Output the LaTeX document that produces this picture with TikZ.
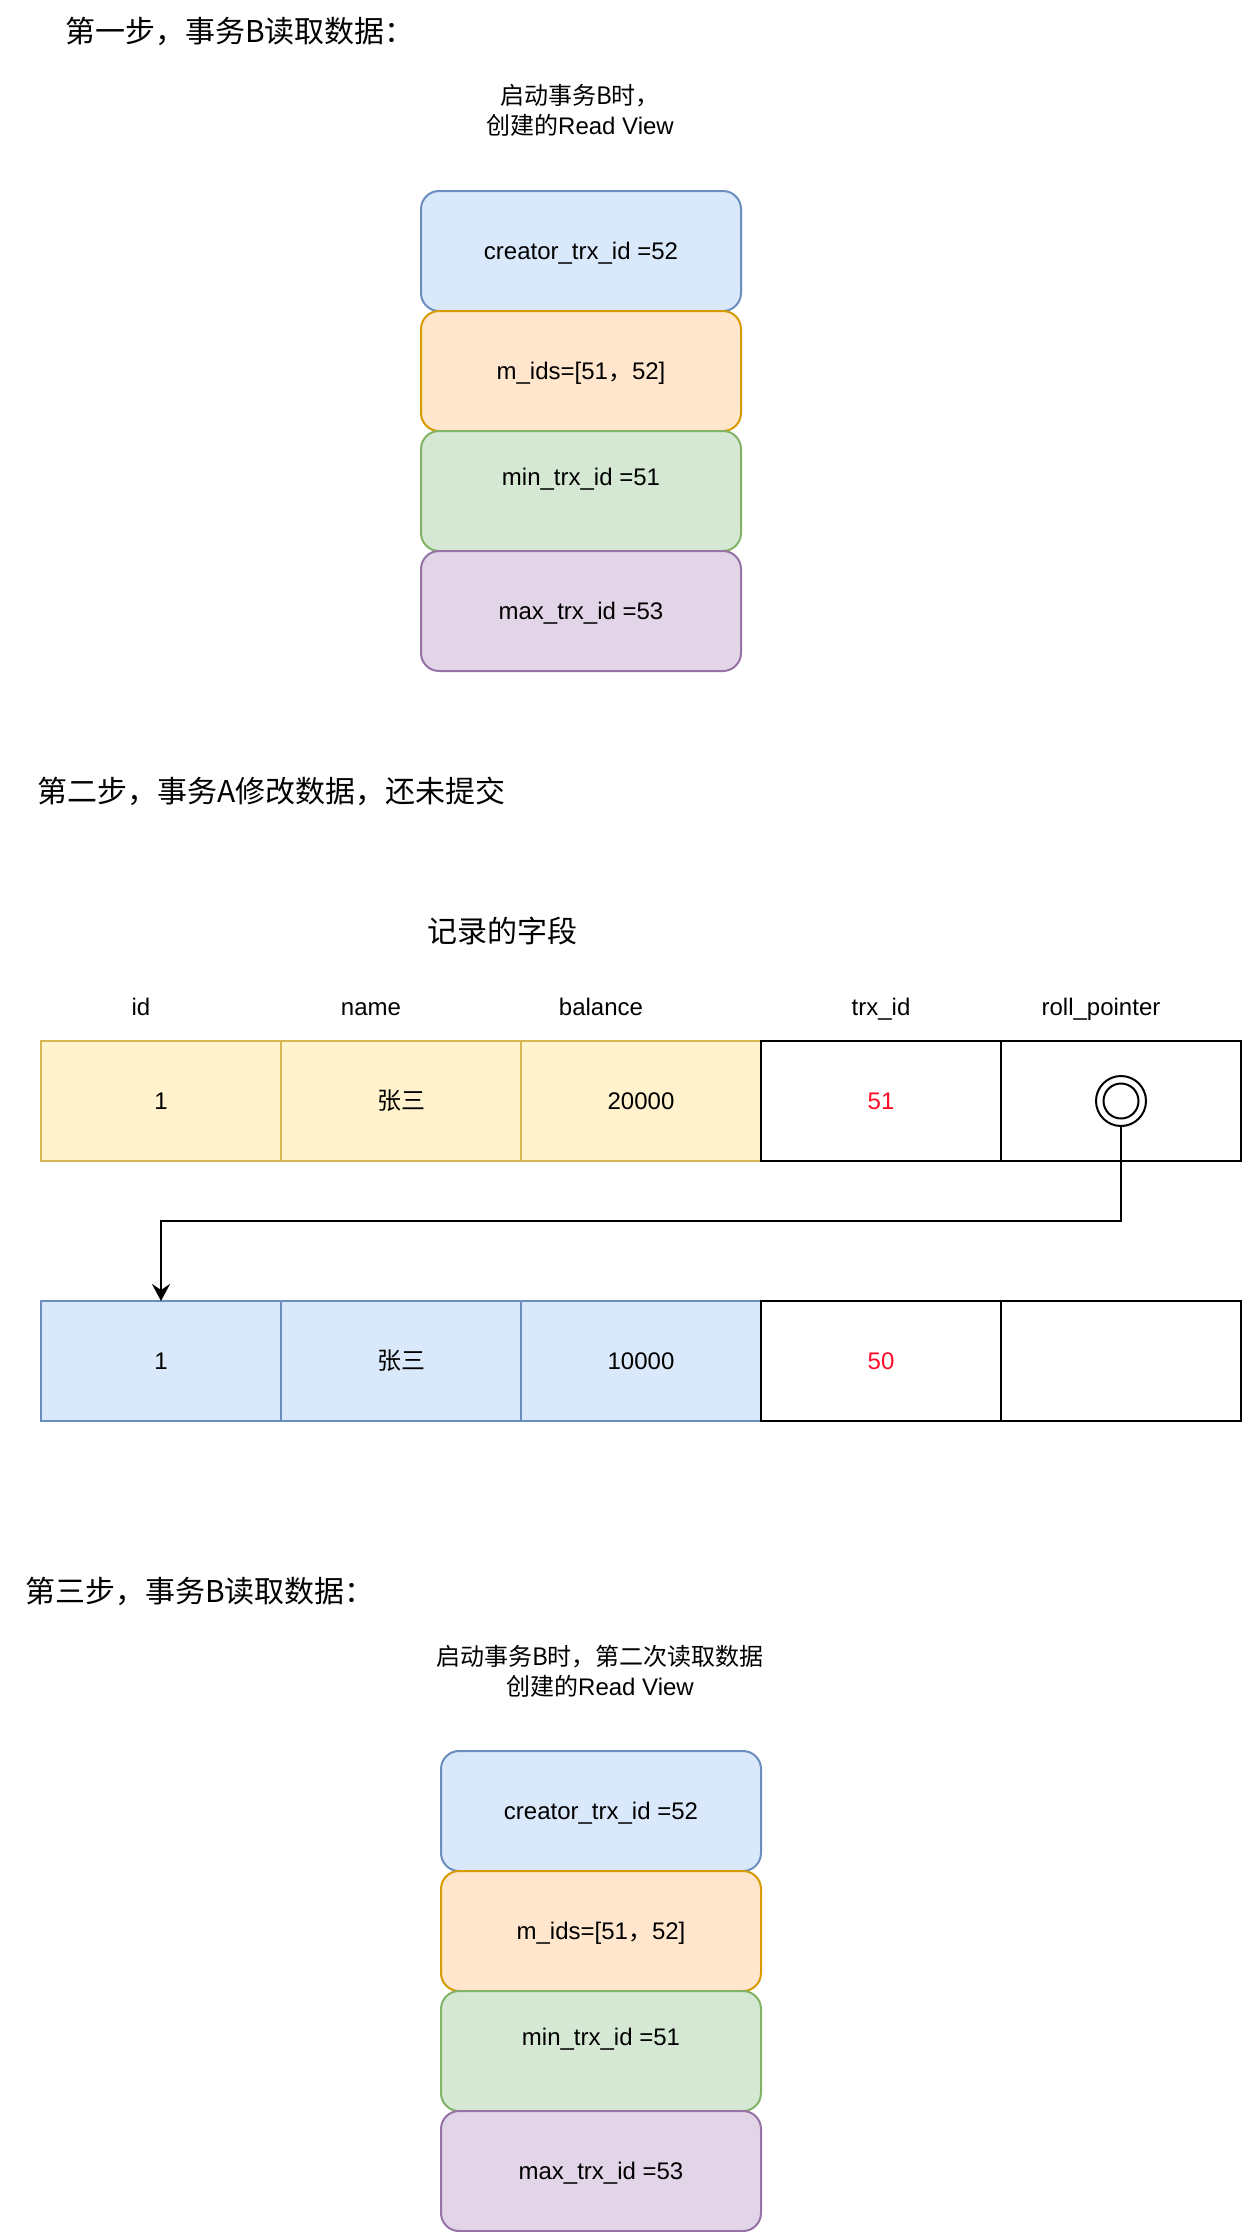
\documentclass[tikz,border=0pt]{standalone}
\usepackage{fontspec}
\setmainfont{Liberation Sans}
\newfontfamily\cjk{Noto Sans CJK SC}
\usetikzlibrary{arrows.meta}
\definecolor{blueF}{HTML}{DAE8FC}\definecolor{blueD}{HTML}{6C8EBF}
\definecolor{orangeF}{HTML}{FFE6CC}\definecolor{orangeD}{HTML}{D79B00}
\definecolor{greenF}{HTML}{D5E8D4}\definecolor{greenD}{HTML}{82B366}
\definecolor{purpleF}{HTML}{E1D5E7}\definecolor{purpleD}{HTML}{9673A6}
\definecolor{yellowF}{HTML}{FFF2CC}\definecolor{yellowD}{HTML}{D6B656}
\definecolor{redtxt}{HTML}{FF0A28}
\begin{document}
\begin{tikzpicture}[x=1pt,y=-1pt,
  every node/.style={inner sep=0pt, outer sep=0pt},
  txt/.style={font=\fontsize{24}{29}\selectfont, text height=17.2pt, text depth=0pt},
  trail/.style={text depth=28.8pt},
  ttl/.style={font=\cjk\fontsize{30}{36}\selectfont, text height=22.8pt, text depth=0pt, anchor=west},
  subttl/.style={font=\fontsize{24}{30}\selectfont, align=center},
  rv/.style={draw, rounded corners=18pt, minimum width=320pt, minimum height=120pt, line width=2pt, txt},
  rvblue/.style={rv, fill=blueF, draw=blueD},
  rvorange/.style={rv, fill=orangeF, draw=orangeD},
  rvgreen/.style={rv, fill=greenF, draw=greenD, trail},
  rvpurple/.style={rv, fill=purpleF, draw=purpleD},
  cell/.style={draw, minimum width=240pt, minimum height=120pt, line width=2pt, txt},
  ycell/.style={cell, fill=yellowF, draw=yellowD},
  bcell/.style={cell, fill=blueF, draw=blueD},
  wcell/.style={cell, fill=white, draw=black},
  hdr/.style={txt},
  ptrring/.style={circle, draw, line width=2pt}
]
\path[use as bounding box, fill=white] (0,0) rectangle (1242,2232);

% ---------- step 1 ----------
\node[ttl] (t1) at (65,31) {第一步，事务B读取数据：};
\node[subttl] (s1) at (580,110.5) {{\cjk 启动事务B时，}\\{\cjk 创建的}Read View};
\node[rvblue] (a1) at (581,251) {creator\_trx\_id =52};
\node[rvorange] (a2) at (581,371) {m\_ids=[51{\cjk ，}52]};
\node[rvgreen] (a3) at (581,491) {min\_trx\_id =51};
\node[rvpurple] (a4) at (581,611) {max\_trx\_id =53};

% ---------- step 2 ----------
\node[ttl] (t2) at (37,791) {第二步，事务A修改数据，还未提交};
\node[font=\cjk\fontsize{30}{36}\selectfont, text height=22.8pt, text depth=0pt] (rec) at (502,931) {记录的字段};
\node[hdr] (h1) at (141,1007) {id};
\node[hdr] (h2) at (371,1007) {name};
\node[hdr] (h3) at (601,1007) {balance};
\node[hdr] (h4) at (881,1007) {trx\_id};
\node[hdr] (h5) at (1101,1007) {roll\_pointer};

\node[ycell] (r1c1) at (161,1101) {1};
\node[ycell] (r1c2) at (401,1101) {\cjk 张三};
\node[ycell] (r1c3) at (641,1101) {20000};
\node[wcell, text=redtxt] (r1c4) at (881,1101) {51};
\node[wcell] (r1c5) at (1121,1101) {};
\node[ptrring, minimum size=50pt] (ptr) at (1121,1101) {};
\node[ptrring, minimum size=35pt] (ptrin) at (1121,1101) {};

\node[bcell] (r2c1) at (161,1361) {1};
\node[bcell] (r2c2) at (401,1361) {\cjk 张三};
\node[bcell] (r2c3) at (641,1361) {10000};
\node[wcell, text=redtxt] (r2c4) at (881,1361) {50};
\node[wcell] (r2c5) at (1121,1361) {};

\draw[line width=2pt, -{Stealth[length=17pt, width=18pt, inset=6pt]}]
  (ptr.south) -- ++(0,95) -| (r2c1.north);

% ---------- step 3 ----------
\node[ttl] (t3) at (25,1591) {第三步，事务B读取数据：};
\node[subttl] (s3) at (600,1671) {{\cjk 启动事务B时，第二次读取数据}\\{\cjk 创建的}Read View};
\node[rvblue] (b1) at (601,1811) {creator\_trx\_id =52};
\node[rvorange] (b2) at (601,1931) {m\_ids=[51{\cjk ，}52]};
\node[rvgreen] (b3) at (601,2051) {min\_trx\_id =51};
\node[rvpurple] (b4) at (601,2171) {max\_trx\_id =53};
\end{tikzpicture}
\end{document}
